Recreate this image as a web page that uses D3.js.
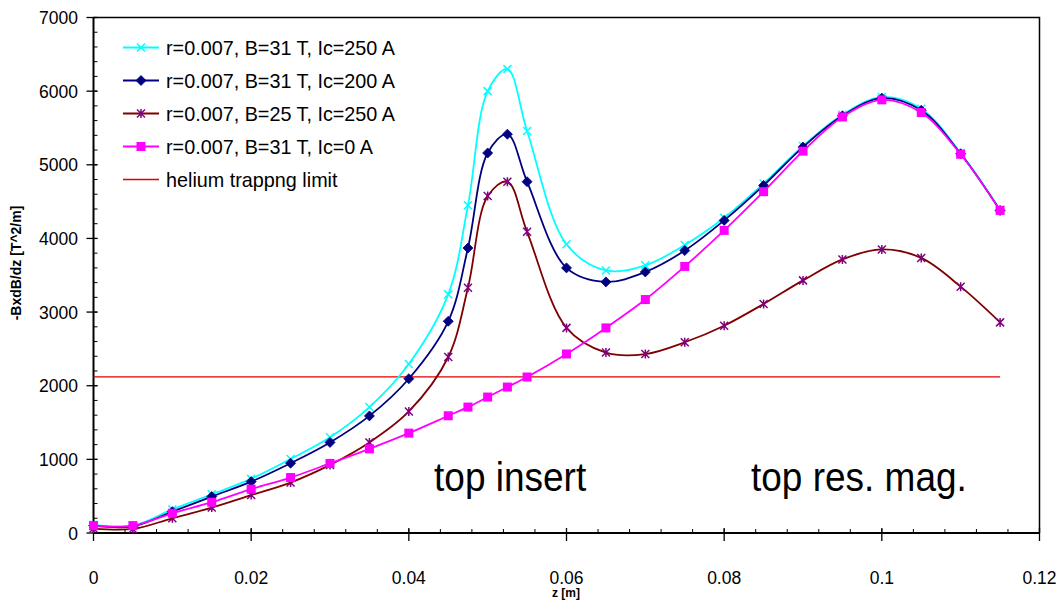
<!DOCTYPE html>
<html>
<head>
<meta charset="utf-8">
<script src="https://cdn.jsdelivr.net/npm/d3@7"></script>
<style>
  html, body { margin: 0; padding: 0; background: #fff; }
  svg { display: block; font-family: "Liberation Sans", Arial, sans-serif; }
</style>
</head>
<body>
<svg id="chart" width="1059" height="605"></svg>
<script>
// Position along the axis, metres
const zValues = [0, 0.005, 0.01, 0.015, 0.02, 0.025, 0.03, 0.035, 0.04, 0.045, 0.0475, 0.05, 0.0525, 0.055,
                 0.06, 0.065, 0.07, 0.075, 0.08, 0.085, 0.09, 0.095, 0.1, 0.105, 0.11, 0.115];

// -B dB/dz in T^2/m for each configuration
const b31Ic250 = [110, 100, 320, 525, 735, 1005, 1300, 1710, 2295, 3240, 4450, 6000, 6300, 5460,
                  3920, 3565, 3635, 3910, 4280, 4745, 5255, 5680, 5920, 5760, 5160, 4390];
const b31Ic200 = [100, 90, 290, 495, 698, 948, 1230, 1590, 2095, 2875, 3870, 5160, 5415, 4770,
                  3600, 3410, 3545, 3835, 4245, 4720, 5240, 5665, 5905, 5740, 5150, 4380];
const b25Ic250 = [60, 55, 200, 345, 515, 685, 925, 1230, 1650, 2390, 3330, 4575, 4770, 4090,
                  2785, 2450, 2430, 2590, 2815, 3110, 3430, 3715, 3850, 3735, 3345, 2860];
const b31Ic0 = [100, 100, 268, 418, 595, 753, 945, 1143, 1356, 1592, 1710, 1846, 1982, 2118,
                2431, 2785, 3170, 3620, 4109, 4635, 5185, 5650, 5882, 5710, 5143, 4381];

// Helium trapping limit (constant) over the plotted range
const heliumLimit = 2120;
const heliumRange = [0, 0.115];

const seriesNames = [
  "r=0.007, B=31 T, Ic=250 A",
  "r=0.007, B=31 T, Ic=200 A",
  "r=0.007, B=25 T, Ic=250 A",
  "r=0.007, B=31 T, Ic=0 A",
  "helium trappng limit"
];

const xTicks = [0, 0.02, 0.04, 0.06, 0.08, 0.1, 0.12];
const xTickLabels = ["0", "0.02", "0.04", "0.06", "0.08", "0.1", "0.12"];
const yTicks = [0, 1000, 2000, 3000, 4000, 5000, 6000, 7000];

const regionLabels = [
  { text: "top insert", z: 0.0432 },
  { text: "top res. mag.", z: 0.0834 }
];

// ---- layout ----
const svg = d3.select("#chart");
const plot = { left: 93.5, right: 1039.5, top: 17.5, bottom: 533 };

const x = d3.scaleLinear().domain([0, 0.12]).range([plot.left, plot.right]);
const y = d3.scaleLinear().domain([0, 7000]).range([plot.bottom, plot.top]);

// plot frame (top and right edges)
svg.append("path")
  .attr("d", `M${plot.left},${plot.top}H${plot.right}V${plot.bottom}`)
  .attr("fill", "none").attr("stroke", "#000").attr("stroke-width", 1.5);

// ---- axes ----
const xMinor = d3.range(0, 0.1201, 0.004);
const yMinor = d3.range(0, 7001, 200);

const gx = svg.append("g");
gx.selectAll("line.minor").data(xMinor).join("line")
  .attr("x1", d => x(d)).attr("x2", d => x(d))
  .attr("y1", plot.bottom - 4).attr("y2", plot.bottom)
  .attr("stroke", "#000").attr("stroke-width", 1);
gx.selectAll("line.major").data(xTicks).join("line")
  .attr("x1", d => x(d)).attr("x2", d => x(d))
  .attr("y1", plot.bottom - 5).attr("y2", plot.bottom + 8)
  .attr("stroke", "#000").attr("stroke-width", 1.3);
gx.append("line")
  .attr("x1", plot.left).attr("x2", plot.right)
  .attr("y1", plot.bottom).attr("y2", plot.bottom)
  .attr("stroke", "#000").attr("stroke-width", 2);
gx.selectAll("text").data(xTicks).join("text")
  .attr("x", d => x(d)).attr("y", 584)
  .attr("text-anchor", "middle").attr("font-size", 17.5)
  .text((d, i) => xTickLabels[i]);

const gy = svg.append("g");
gy.selectAll("line.minor").data(yMinor).join("line")
  .attr("x1", plot.left).attr("x2", plot.left + 4)
  .attr("y1", d => y(d)).attr("y2", d => y(d))
  .attr("stroke", "#000").attr("stroke-width", 1);
gy.selectAll("line.major").data(yTicks).join("line")
  .attr("x1", plot.left - 7).attr("x2", plot.left + 4)
  .attr("y1", d => y(d)).attr("y2", d => y(d))
  .attr("stroke", "#000").attr("stroke-width", 1.3);
gy.append("line")
  .attr("x1", plot.left).attr("x2", plot.left)
  .attr("y1", plot.top).attr("y2", plot.bottom)
  .attr("stroke", "#000").attr("stroke-width", 2);
gy.selectAll("text").data(yTicks).join("text")
  .attr("x", 78).attr("y", d => y(d) + 6.5)
  .attr("text-anchor", "end").attr("font-size", 17.5)
  .text(d => d);

// axis titles
svg.append("text")
  .attr("x", 566).attr("y", 597)
  .attr("text-anchor", "middle").attr("font-size", 12).attr("font-weight", "bold")
  .text("z [m]");
svg.append("text")
  .attr("transform", "translate(21,263) rotate(-90)")
  .attr("text-anchor", "middle").attr("font-size", 14).attr("font-weight", "bold")
  .text("-BxdB/dz [T^2/m]");

// ---- marker shapes ----
function drawMarker(g, kind, cx, cy) {
  if (kind === "x") {
    const s = 4;
    g.append("path").attr("d", `M${cx - s},${cy - s}L${cx + s},${cy + s}M${cx - s},${cy + s}L${cx + s},${cy - s}`)
      .attr("stroke", "#00FFFF").attr("stroke-width", 1.5).attr("fill", "none");
  } else if (kind === "diamond") {
    const s = 5;
    g.append("path").attr("d", `M${cx},${cy - s}L${cx + s},${cy}L${cx},${cy + s}L${cx - s},${cy}Z`)
      .attr("fill", "#000080").attr("stroke", "#000080").attr("stroke-width", 0.8);
  } else if (kind === "star") {
    const s = 4;
    g.append("path").attr("d", `M${cx - s},${cy - s}L${cx + s},${cy + s}M${cx - s},${cy + s}L${cx + s},${cy - s}M${cx},${cy - s - 0.5}L${cx},${cy + s + 0.5}`)
      .attr("stroke", "#800080").attr("stroke-width", 1.5).attr("fill", "none");
  } else if (kind === "square") {
    const s = 4.5;
    g.append("rect").attr("x", cx - s).attr("y", cy - s).attr("width", 2 * s).attr("height", 2 * s)
      .attr("fill", "#FF00FF");
  }
}

// ---- data series ----
const series = [
  { name: seriesNames[0], values: b31Ic250, color: "#00FFFF", marker: "x" },
  { name: seriesNames[1], values: b31Ic200, color: "#000080", marker: "diamond" },
  { name: seriesNames[2], values: b25Ic250, color: "#800000", marker: "star" },
  { name: seriesNames[3], values: b31Ic0, color: "#FF00FF", marker: "square" }
];

const line = d3.line()
  .x(d => x(d[0])).y(d => y(d[1]))
  .curve(d3.curveCatmullRom.alpha(0.5));

// helium limit line
svg.append("line")
  .attr("x1", x(heliumRange[0])).attr("x2", x(heliumRange[1]))
  .attr("y1", y(heliumLimit)).attr("y2", y(heliumLimit))
  .attr("stroke", "#E00000").attr("stroke-width", 1.4);

// draw back to front so the Ic=250 A curve sits beneath the others near the peak
const drawOrder = [0, 1, 2, 3];
drawOrder.forEach(i => {
  const s = series[i];
  const pts = zValues.map((z, k) => [z, s.values[k]]);
  const g = svg.append("g");
  g.append("path").attr("d", line(pts))
    .attr("fill", "none").attr("stroke", s.color).attr("stroke-width", 1.8);
  pts.forEach(p => drawMarker(g, s.marker, x(p[0]), y(p[1])));
});

// ---- legend ----
const legend = svg.append("g");
const legendY = [47.5, 80.5, 113.5, 146.5, 179.5];
seriesNames.forEach((name, i) => {
  const ly = legendY[i];
  const color = i < 4 ? series[i].color : "#E00000";
  legend.append("line")
    .attr("x1", 123).attr("x2", 159).attr("y1", ly).attr("y2", ly)
    .attr("stroke", color).attr("stroke-width", i < 4 ? 1.8 : 1.4);
  if (i < 4) drawMarker(legend, series[i].marker, 141, ly);
  legend.append("text")
    .attr("x", 166).attr("y", ly + 7)
    .attr("font-size", 19.8)
    .text(name);
});

// ---- region labels (slightly tall, narrow lettering) ----
regionLabels.forEach(r => {
  svg.append("text")
    .attr("transform", `translate(${x(r.z)},491) scale(1,1.1)`)
    .attr("font-size", 37)
    .text(r.text);
});
</script>
</body>
</html>
